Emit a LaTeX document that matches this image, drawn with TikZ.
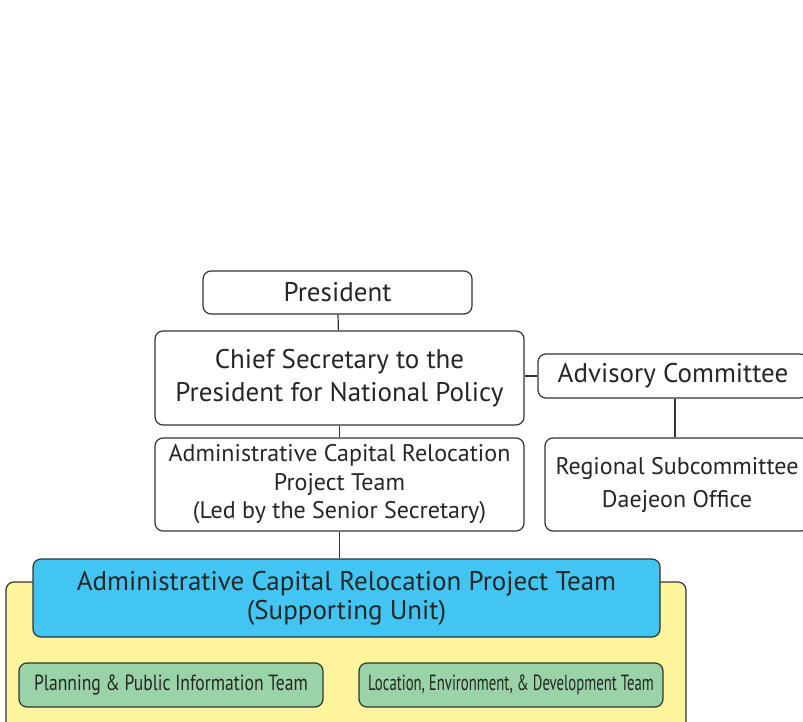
\documentclass[tikz,border=0pt]{standalone}
\usepackage{fontspec}
\setmainfont{PT Sans}
\newfontfamily\narrowfont[FakeStretch=0.8]{PT Sans}
\newfontfamily\tighterfont[FakeStretch=0.67]{PT Sans}
\usepackage{tikz}
\definecolor{linegray}{HTML}{333333}
\definecolor{unitblue}{HTML}{42C5F2}
\definecolor{unityellow}{HTML}{FFF59C}
\definecolor{teamgreen}{HTML}{99D3A7}
\tikzstyle{box}=[draw=linegray, line width=1.2pt, rounded corners=8pt, fill=white,
                 inner sep=0, align=center, text=black!85]
\tikzstyle{bigtext}=[font=\fontsize{27}{33}\selectfont]
\tikzstyle{midtext}=[font=\fontsize{24}{28.5}\selectfont]
\tikzstyle{teambox}=[box, fill=teamgreen, minimum width=304pt, minimum height=44pt,
                     font=\narrowfont\fontsize{22}{24}\selectfont]
\tikzstyle{link}=[draw=linegray, line width=1.2pt]

\begin{document}
\begin{tikzpicture}[x=1pt, y=-1pt]
        \useasboundingbox (0, 0) rectangle (803, 722);
        % support unit frame, runs off the bottom edge
        \path[box, fill=unityellow] (6, 582) rectangle (686, 740);
        \node[box, bigtext, minimum width=269pt, minimum height=43pt] (pres) at (337.5, 292.5) {President};
        \node[box, bigtext, minimum width=369pt, minimum height=94pt] (chief) at (339.5, 378) {Chief Secretary to the\\President for National Policy};
        \node[box, bigtext, minimum width=270pt, minimum height=44pt] (advis) at (673, 376) {Advisory Committee};
        \node[box, midtext, minimum width=369pt, minimum height=93pt] (proj) at (339.5, 484.5) {Administrative Capital Relocation\\Project Team\\(Led by the Senior Secretary)};
        \node[box, font=\fontsize{24}{33}\selectfont, minimum width=264pt, minimum height=93pt] (regio) at (677, 484.5) {Regional Subcommittee\\Daejeon Office};
        \node[box, font=\fontsize{27}{29}\selectfont, fill=unitblue, minimum width=627pt, minimum height=78pt] (unit) at (346.5, 598) {Administrative Capital Relocation Project Team\\(Supporting Unit)};
        \node[teambox] (plan) at (171, 685) {Planning \& Public Information Team};
        \node[teambox, font=\tighterfont\fontsize{22}{24}\selectfont] (locat) at (511, 685) {Location, Environment, \& Development Team};
        \draw[link] (pres) -- (chief);
        \draw[link] (chief) -- (proj);
        \draw[link] (proj) -- (proj.south |- unit.north);
        \draw[link] (chief.east |- advis) -- (advis.west);
        \draw[link] (advis.south -| 675, 0) -- (regio.north -| 675, 0);
    \end{tikzpicture}
\end{document}
